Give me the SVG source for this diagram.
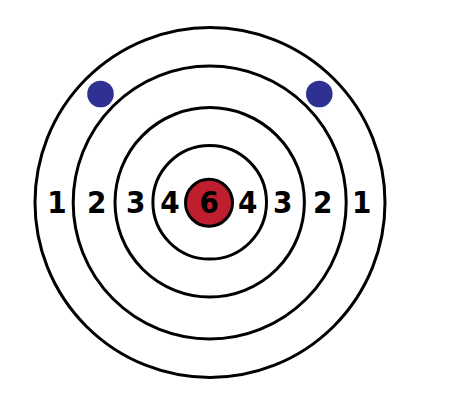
<svg xmlns="http://www.w3.org/2000/svg" width="450" height="412" viewBox="0 0 450 412">
<style>
.ring{fill:none;stroke:#000;stroke-width:3}
.num{font-family:"DejaVu Sans Condensed","DejaVu Sans",sans-serif;font-weight:bold;font-size:31px;fill:#000;text-anchor:middle}
.dot{fill:#2e3192}
</style>
<rect width="450" height="412" fill="#fff"/>
<g id="target">
<circle id="ring1" class="ring" cx="210" cy="202.5" r="175"/>
<circle id="ring2" class="ring" cx="209.7" cy="202.5" r="136.5"/>
<circle id="ring3" class="ring" cx="209.7" cy="202.3" r="94.7"/>
<circle id="ring4" class="ring" cx="209.7" cy="202.3" r="56.8"/>
<circle id="bull" cx="209" cy="202.7" r="23.5" fill="#be1e2d" stroke="#000" stroke-width="3"/>
</g>
<g id="dots">
<circle class="dot" cx="100.5" cy="94" r="13.3"/>
<circle class="dot" cx="319.3" cy="94" r="13.3"/>
</g>
<g id="labels">
<text class="num" x="57" y="213">1</text>
<text class="num" x="96.7" y="213">2</text>
<text class="num" x="135.7" y="213">3</text>
<text class="num" x="170" y="213">4</text>
<text class="num" x="209.3" y="213">6</text>
<text class="num" x="247.7" y="213">4</text>
<text class="num" x="282.7" y="213">3</text>
<text class="num" x="322.7" y="213">2</text>
<text class="num" x="361.7" y="213">1</text>
</g>
</svg>
